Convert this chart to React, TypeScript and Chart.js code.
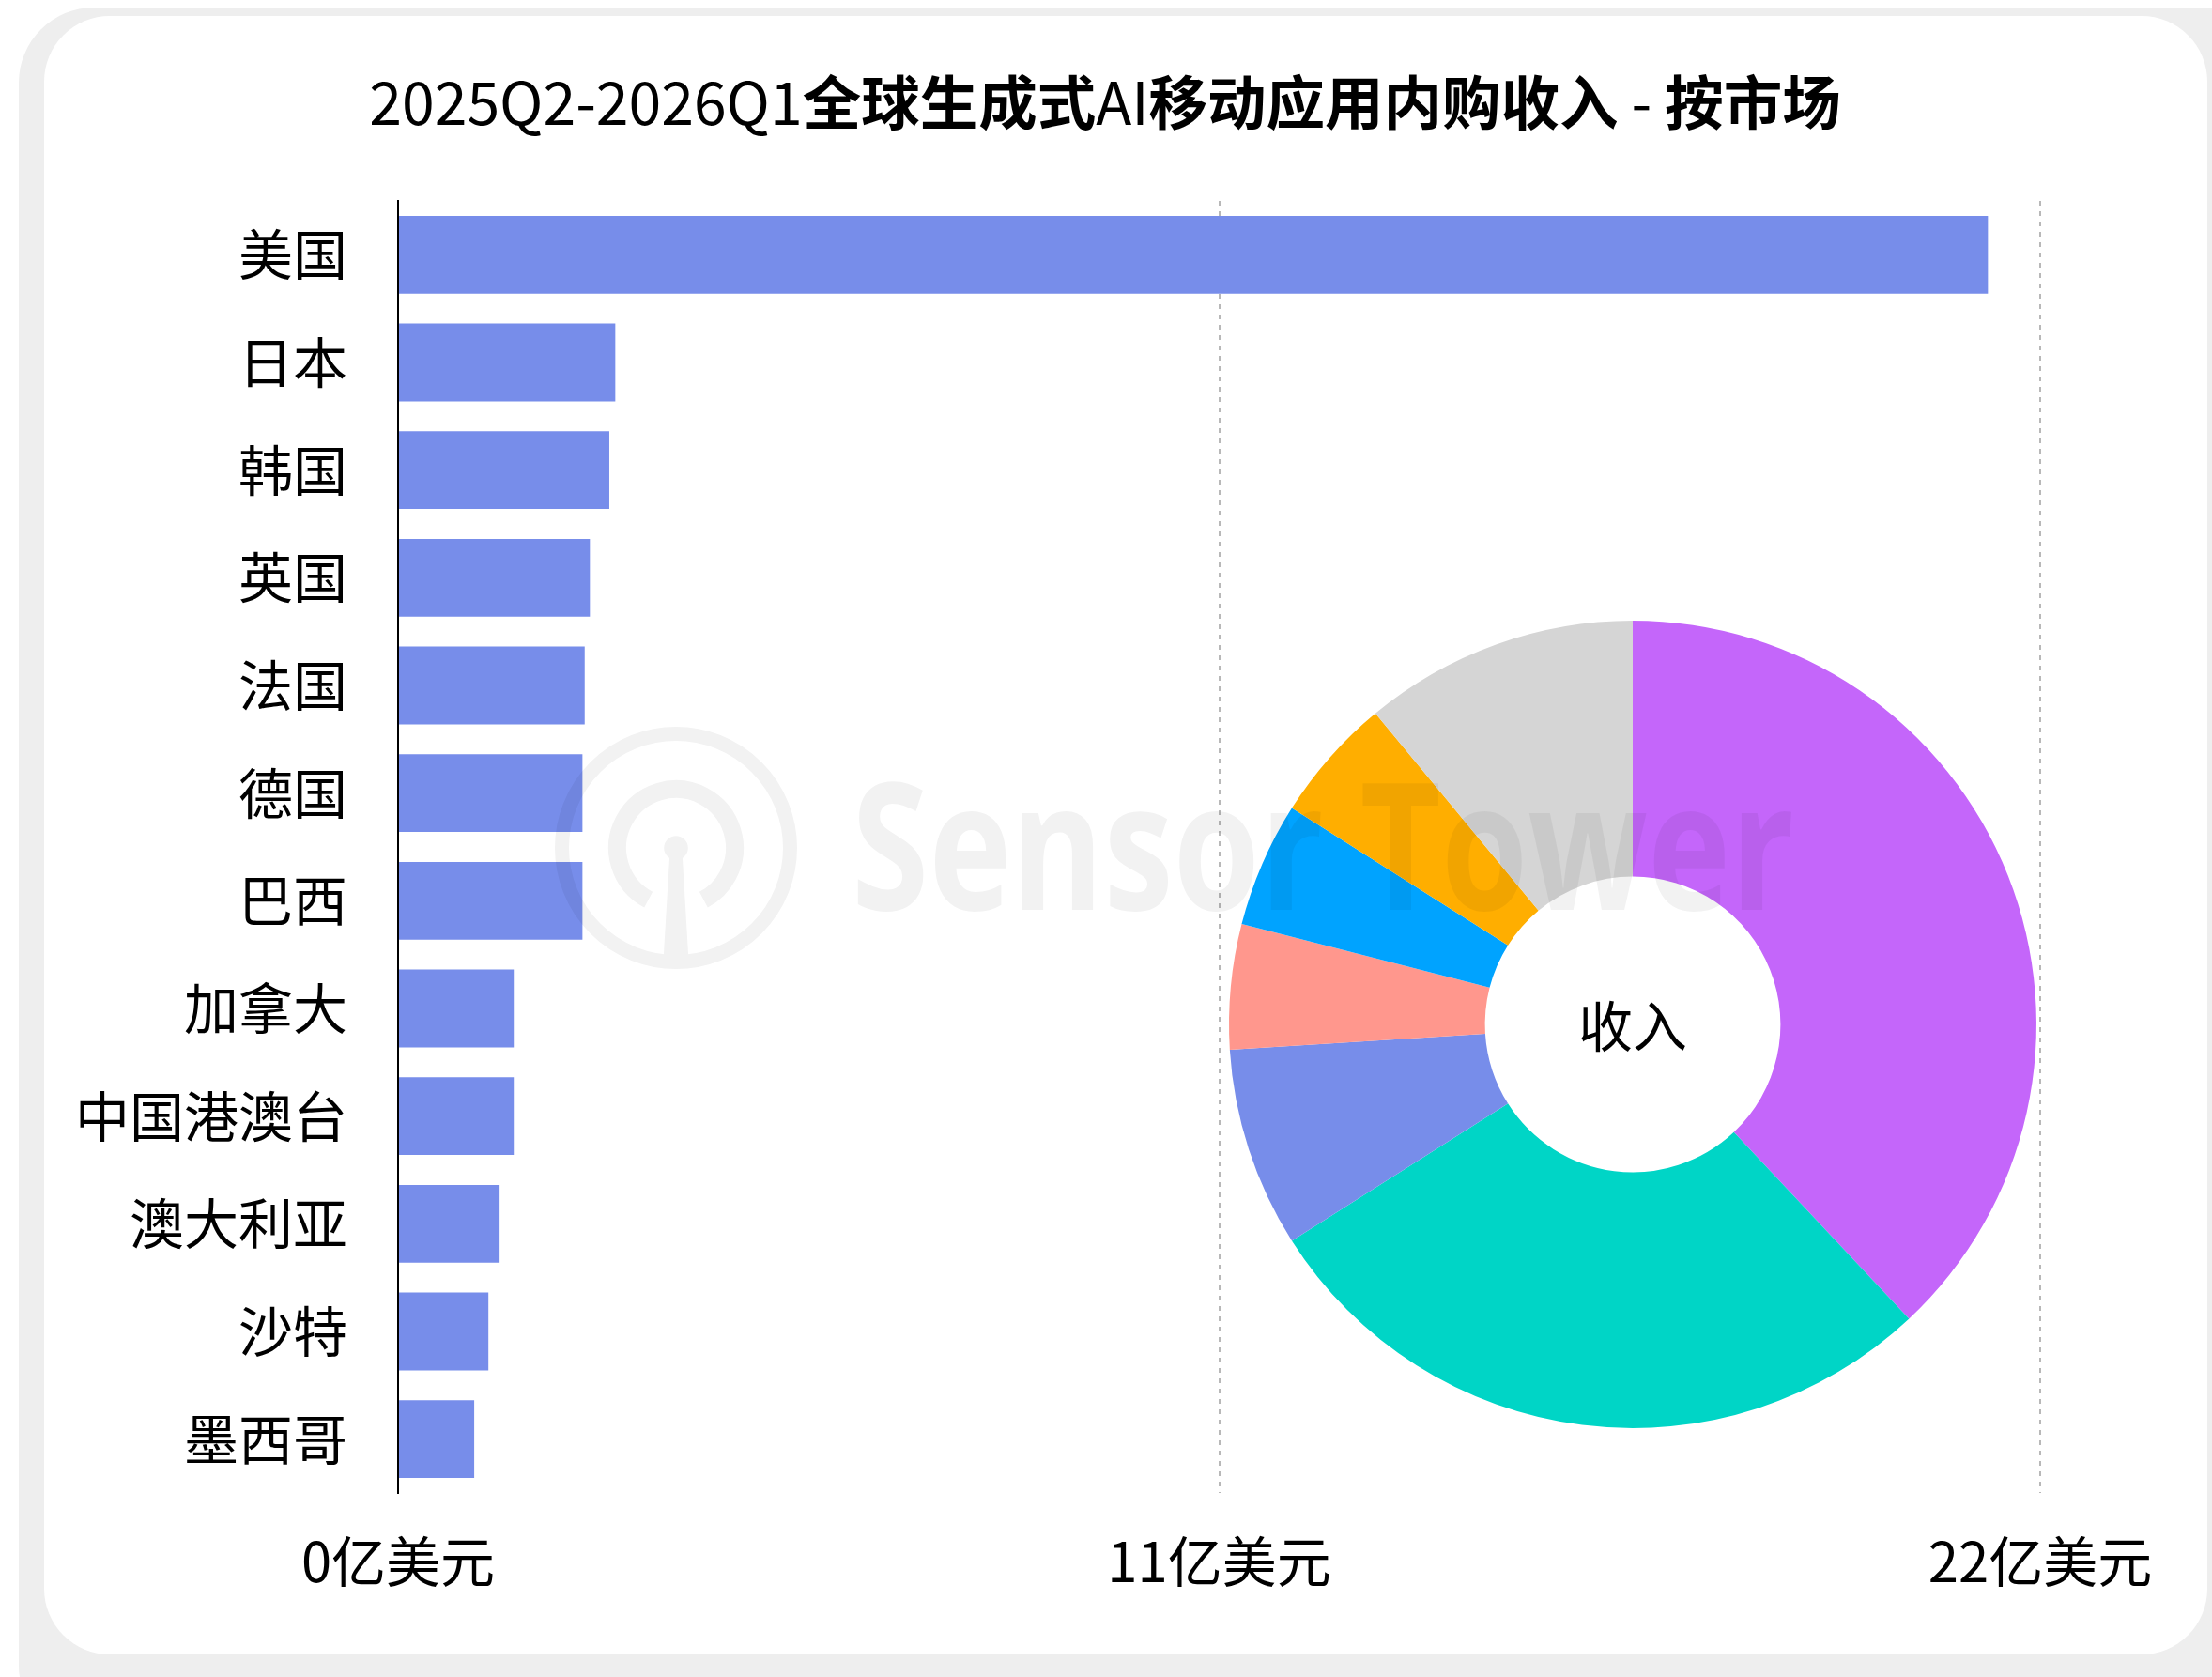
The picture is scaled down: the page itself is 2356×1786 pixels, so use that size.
import React, { useEffect, useRef } from "react";
import { Chart, registerables } from "chart.js";

Chart.register(...registerables);

const W = 2356;
const H = 1786;
const FONT = "'Noto Sans CJK SC', 'Noto Sans', sans-serif";

// ---- data ----
const titleParts = [
  { text: "2025Q2-2026Q1", bold: false },
  { text: "全球生成式", bold: true },
  { text: "AI", bold: false },
  { text: "移动应用内购收入", bold: true },
  { text: " - ", bold: false },
  { text: "按市场", bold: true },
];

const markets = ["美国", "日本", "韩国", "英国", "法国", "德国", "巴西", "加拿大", "中国港澳台", "澳大利亚", "沙特", "墨西哥"];
const revenue = [21.3, 2.91, 2.83, 2.57, 2.5, 2.47, 2.47, 1.55, 1.55, 1.36, 1.21, 1.02];
const xTicks = [0, 11, 22];
const tickUnit = "亿美元";

const shareLabels = ["类别A", "类别B", "类别C", "类别D", "类别E", "类别F", "其他"];
const shareValues = [38, 28, 8, 5, 5, 5, 11];
const shareColors = ["#C466FA", "#00D5C6", "#778DEA", "#FF978D", "#00A3FF", "#FFAE00", "#D5D5D5"];
const centerLabel = "收入";
const watermarkText = "Sensor Tower";

const BAR_COLOR = "#778DEA";

function roundRect(ctx: CanvasRenderingContext2D, x: number, y: number, w: number, h: number, r: number) {
  ctx.beginPath();
  ctx.moveTo(x + r, y);
  ctx.lineTo(x + w - r, y);
  ctx.arcTo(x + w, y, x + w, y + r, r);
  ctx.lineTo(x + w, y + h - r);
  ctx.arcTo(x + w, y + h, x + w - r, y + h, r);
  ctx.lineTo(x + r, y + h);
  ctx.arcTo(x, y + h, x, y + h - r, r);
  ctx.lineTo(x, y + r);
  ctx.arcTo(x, y, x + r, y, r);
  ctx.closePath();
}

const backgroundPlugin = {
  id: "bgAndTitle",
  beforeDraw(chart: any) {
    const ctx: CanvasRenderingContext2D = chart.ctx;
    ctx.save();
    ctx.fillStyle = "#ffffff";
    ctx.fillRect(0, 0, W, H);
    ctx.fillStyle = "#eeeeee";
    roundRect(ctx, 20, 8, W + 60, H + 60, 80);
    ctx.fill();
    ctx.fillStyle = "#ffffff";
    roundRect(ctx, 47, 17, 2351 - 47, 1762 - 17, 70);
    ctx.fill();

    // title
    const size = 62.5;
    const fontOf = (b: boolean) => `${b ? "bold " : ""}${size}px ${FONT}`;
    let total = 0;
    const widths = titleParts.map((p) => {
      ctx.font = fontOf(p.bold);
      const w = ctx.measureText(p.text).width;
      total += w;
      return w;
    });
    let x = 1177 - total / 2;
    ctx.fillStyle = "#000000";
    ctx.textAlign = "left";
    ctx.textBaseline = "alphabetic";
    titleParts.forEach((p, i) => {
      ctx.font = fontOf(p.bold);
      ctx.fillText(p.text, x, 133);
      x += widths[i];
    });
    ctx.restore();
  },
};

const centerAndWatermarkPlugin = {
  id: "centerWatermark",
  afterDraw(chart: any) {
    const ctx: CanvasRenderingContext2D = chart.ctx;
    const arc = chart.getDatasetMeta(0).data[0];
    ctx.save();
    ctx.fillStyle = "#000000";
    ctx.font = `58px ${FONT}`;
    ctx.textAlign = "center";
    ctx.textBaseline = "middle";
    ctx.fillText(centerLabel, arc.x, arc.y + 2);
    ctx.restore();

    // watermark drawn opaque offscreen then composited faintly
    const off = document.createElement("canvas");
    off.width = W;
    off.height = H;
    const o = off.getContext("2d") as CanvasRenderingContext2D;
    o.fillStyle = "#000";
    o.strokeStyle = "#000";
    const cx = 720, cy = 903;
    o.lineWidth = 15;
    o.beginPath();
    o.arc(cx, cy, 121.5, 0, Math.PI * 2);
    o.stroke();
    o.lineWidth = 19;
    o.beginPath();
    o.arc(cx, cy, 62.5, (118 * Math.PI) / 180, (422 * Math.PI) / 180);
    o.stroke();
    o.beginPath();
    o.arc(cx, cy, 12.8, 0, Math.PI * 2);
    o.fill();
    o.beginPath();
    o.moveTo(713.3, 910);
    o.lineTo(726.7, 910);
    o.lineTo(733.3, 1020);
    o.lineTo(706.7, 1020);
    o.closePath();
    o.fill();
    o.font = `bold 188px 'Open Sans', 'Noto Sans', sans-serif`;
    o.textBaseline = "alphabetic";
    const tw = o.measureText(watermarkText).width;
    o.save();
    o.translate(907, 969);
    o.scale(1004 / tw, 1);
    o.fillText(watermarkText, 0, 0);
    o.restore();

    ctx.save();
    ctx.globalAlpha = 0.05;
    ctx.drawImage(off, 0, 0);
    ctx.restore();
  },
};

export default function App() {
  const barRef = useRef<HTMLCanvasElement>(null);
  const pieRef = useRef<HTMLCanvasElement>(null);

  useEffect(() => {
    const bar = new Chart(barRef.current as HTMLCanvasElement, {
      type: "bar",
      data: {
        labels: markets,
        datasets: [
          {
            label: "收入",
            data: revenue,
            backgroundColor: BAR_COLOR,
            borderWidth: 0,
            barPercentage: 0.722,
            categoryPercentage: 1,
          },
        ],
      },
      options: {
        indexAxis: "y",
        responsive: false,
        animation: false,
        events: [],
        layout: { padding: { left: 0, right: 183, top: 214, bottom: 96 } },
        plugins: { legend: { display: false }, tooltip: { enabled: false }, title: { display: false } },
        scales: {
          x: {
            min: 0,
            max: 22,
            afterBuildTicks: (s: any) => {
              s.ticks = xTicks.map((v) => ({ value: v }));
            },
            afterFit: (s: any) => {
              s.height = 100;
            },
            ticks: {
              font: { family: FONT, size: 58 },
              color: "#000000",
              padding: 38,
              maxRotation: 0,
              callback: (v: any) => `${v}${tickUnit}`,
            },
            grid: { display: true, drawTicks: false, color: "#b8b8b8", lineWidth: 2 },
            border: { display: false, dash: [5, 6] },
          },
          y: {
            afterFit: (s: any) => {
              s.width = 424;
            },
            ticks: {
              font: { family: FONT, size: 58 },
              color: "#000000",
              padding: 54,
            },
            grid: { display: false, drawTicks: false },
            border: { display: true, color: "#000000", width: 2 },
          },
        },
      },
      plugins: [backgroundPlugin],
    } as any);

    const pie = new Chart(pieRef.current as HTMLCanvasElement, {
      type: "doughnut",
      data: {
        labels: shareLabels,
        datasets: [{ data: shareValues, backgroundColor: shareColors, borderWidth: 0 }],
      },
      options: {
        responsive: false,
        animation: false,
        events: [],
        cutout: "36.6%",
        layout: { padding: { left: 1309, top: 661, right: 187, bottom: 265 } },
        plugins: { legend: { display: false }, tooltip: { enabled: false } },
      },
      plugins: [centerAndWatermarkPlugin],
    } as any);

    return () => {
      bar.destroy();
      pie.destroy();
    };
  }, []);

  const canvasStyle: React.CSSProperties = { position: "absolute", left: 0, top: 0, width: W, height: H };
  return (
    <div style={{ position: "fixed", left: 0, top: 0, width: W, height: H, overflow: "hidden", background: "#fff" }}>
      <canvas ref={barRef} width={W} height={H} style={canvasStyle} />
      <canvas ref={pieRef} width={W} height={H} style={canvasStyle} />
    </div>
  );
}
